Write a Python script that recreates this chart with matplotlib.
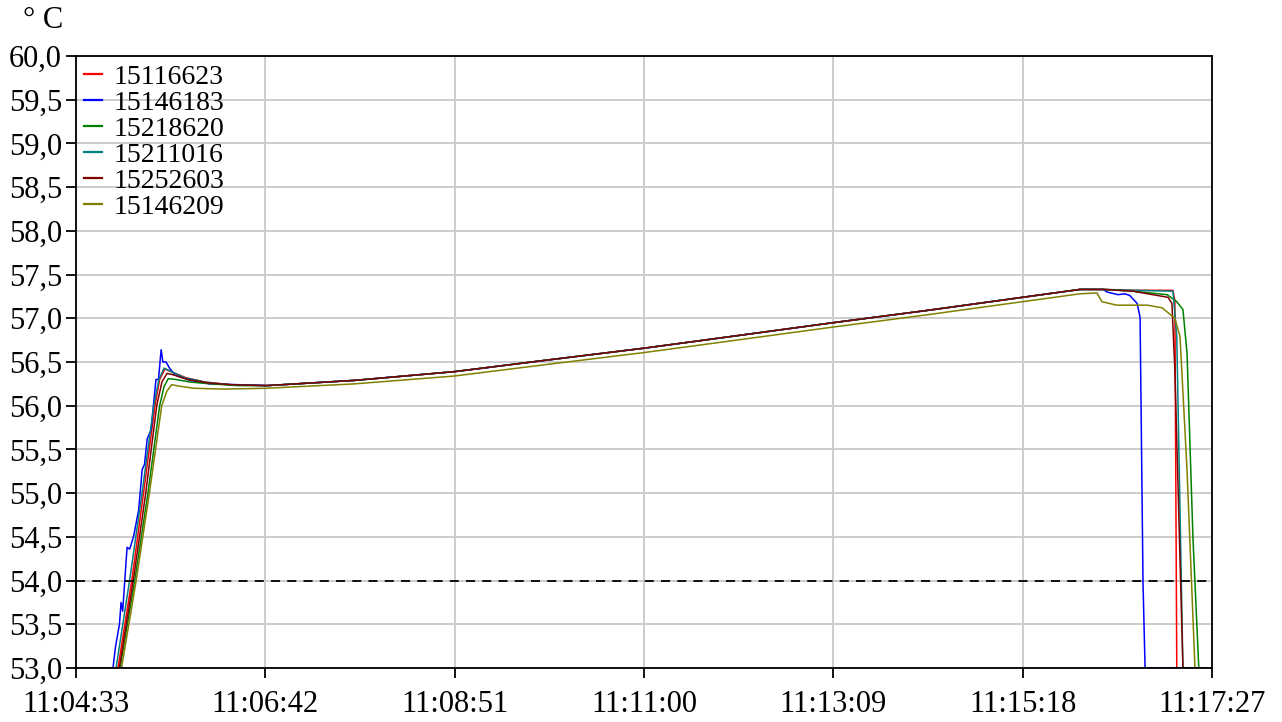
import matplotlib
matplotlib.use("Agg")
import matplotlib.pyplot as plt
import pandas as pd

plt.rcParams['font.family'] = ['Liberation Serif', 'DejaVu Serif']

t0 = pd.Timestamp("2000-01-01 11:04:33")
x_tick_labels = ["11:04:33", "11:06:42", "11:08:51", "11:11:00", "11:13:09", "11:15:18", "11:17:27"]
y_ticks = [53.0, 53.5, 54.0, 54.5, 55.0, 55.5, 56.0, 56.5, 57.0, 57.5, 58.0, 58.5, 59.0, 59.5, 60.0]
y_tick_labels = [f"{v:.1f}".replace(".", ",") for v in y_ticks]
limit = 54.0

# mittlerer Verlauf (Sekunden ab Start, Temperatur)
plateau_t = [130, 190, 258, 320, 388, 450, 516, 580, 645, 684, 700]
plateau_v = [56.23, 56.29, 56.39, 56.52, 56.66, 56.80, 56.95, 57.09, 57.24, 57.33, 57.33]

red_t = [0, 28.6, 38, 46, 53.8, 57, 60.6, 66, 75, 88, 105] + plateau_t + [720, 747.4, 748.7, 750, 774]
red_v = [53.0, 53.0, 54.0, 55.0, 56.0, 56.3, 56.42, 56.38, 56.32, 56.27, 56.24] + plateau_v + [57.32, 57.32, 57.2, 53.0, 53.0]

blue_t = [0, 25.2, 26.9, 29.6, 30.7, 31.8, 34.8, 36.6, 39.3, 42.7, 45.1, 46.7, 48.5, 51.1, 54.5, 56.2, 58.0, 59.2, 61.4, 63.7, 67.5, 77.7, 91, 111.7] + plateau_t + [702.5, 710, 714.7, 718, 723, 725, 727, 728.4, 774]
blue_v = [53.0, 53.0, 53.24, 53.5, 53.75, 53.65, 54.38, 54.36, 54.51, 54.81, 55.27, 55.33, 55.62, 55.72, 56.3, 56.3, 56.64, 56.5, 56.5, 56.43, 56.35, 56.29, 56.25, 56.24] + plateau_v + [57.30, 57.27, 57.28, 57.26, 57.17, 57.01, 53.97, 53.0, 53.0]

green_t = [0, 30.0, 40.0, 49, 57.0, 60, 62.9, 68, 78, 92, 110] + plateau_t + [720, 743.4, 750, 754.2, 757, 761, 765, 774]
green_v = [53.0, 53.0, 54.0, 55.0, 56.0, 56.22, 56.31, 56.30, 56.27, 56.25, 56.23] + plateau_v + [57.31, 57.27, 57.19, 57.1, 56.6, 54.5, 53.0, 53.0]

teal_t = [0, 27.3, 36.5, 45, 53.0, 56.5, 60, 65, 74, 88, 105] + plateau_t + [720, 747.4, 750, 754.2, 774]
teal_v = [53.0, 53.0, 54.0, 55.0, 56.0, 56.3, 56.43, 56.39, 56.32, 56.27, 56.24] + plateau_v + [57.32, 57.31, 56.79, 53.0, 53.0]

darkred_t = [0, 29.5, 39.0, 47.5, 55.0, 58.5, 62, 67, 76, 90, 106] + plateau_t + [720, 744, 746.7, 748.7, 754.2, 774]
darkred_v = [53.0, 53.0, 54.0, 55.0, 56.0, 56.27, 56.37, 56.35, 56.30, 56.26, 56.24] + plateau_v + [57.31, 57.24, 57.17, 56.41, 53.0, 53.0]

olive_t = [0, 31.0, 41.0, 50, 58.4, 62, 65.2, 72, 80, 100, 130, 190, 258, 320, 388, 450, 516, 580, 645, 684, 695.6,
           699, 709, 730, 740, 748.7, 752.2, 757, 762.4, 774]
olive_v = [53.0, 53.0, 54.0, 55.0, 56.0, 56.17, 56.24, 56.22, 56.20, 56.19, 56.20, 56.25, 56.34, 56.47, 56.61, 56.75, 56.90, 57.04, 57.19, 57.28, 57.29,
           57.19, 57.15, 57.15, 57.12, 57.0, 56.79, 55.26, 53.0, 53.0]

series = [
    ("15116623", red_t, red_v, "#ff0000"),
    ("15146183", blue_t, blue_v, "#0000ff"),
    ("15218620", green_t, green_v, "#008000"),
    ("15211016", teal_t, teal_v, "#008080"),
    ("15252603", darkred_t, darkred_v, "#800000"),
    ("15146209", olive_t, olive_v, "#808000"),
]

fig = plt.figure(figsize=(12.82, 7.22), dpi=100)
ax = fig.add_axes([76 / 1282, 1 - 668 / 722, 1136 / 1282, 612 / 722])

for name, ts, vs, col in series:
    times = t0 + pd.to_timedelta(ts, unit="s")
    ax.plot(times, vs, color=col, lw=1.1, label=name)

ax.axhline(limit, color="black", lw=1.3, ls=(0, (5, 4)))

x_ticks = [t0 + pd.Timedelta(seconds=129 * i) for i in range(len(x_tick_labels))]
ax.set_xticks(x_ticks)
ax.set_xticklabels(x_tick_labels)
ax.set_xlim(x_ticks[0], x_ticks[-1])
ax.set_yticks(y_ticks)
ax.set_yticklabels(y_tick_labels)
ax.set_ylim(53.0, 60.0)

ax.grid(True, color="#cccccc", lw=1.4)
ax.set_axisbelow(True)
for s in ax.spines.values():
    s.set_color("black")
    s.set_linewidth(1.3)
ax.tick_params(axis="both", direction="out", length=7, width=1.3, labelsize=22, colors="black")
ax.tick_params(axis="y", pad=3)
ax.tick_params(axis="x", pad=9)

leg = ax.legend(loc="upper left", frameon=False, fontsize=20, handlelength=0.65, handletextpad=0.4,
                labelspacing=0.02, borderaxespad=0.25, borderpad=0.05)
for h in leg.get_lines():
    h.set_linewidth(1.6)

fig.text(23 / 1282, 1 - 20 / 722, "° C", fontsize=22, ha="left", va="center")

fig.savefig("out.png", dpi=100)
